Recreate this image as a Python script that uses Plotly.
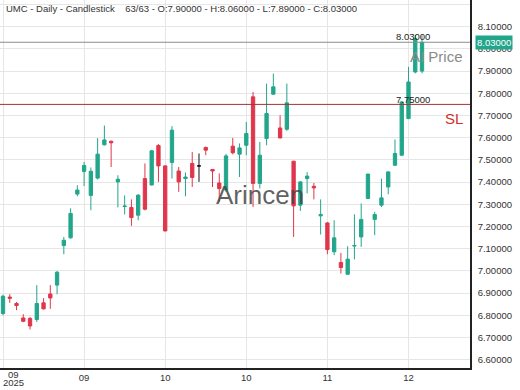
import plotly.graph_objects as go

# ---- data ----
opens = [6.808, 6.882, 6.853, 6.788, 6.786, 6.781, 6.856, 6.896, 6.936, 7.114,
         7.149, 7.346, 7.448, 7.340, 7.418, 7.568, 7.584, 7.401, 7.290, 7.286,
         7.251, 7.416, 7.387, 7.565, 7.473, 7.488, 7.450, 7.416, 7.484, 7.473,
         7.556, 7.457, 7.396, 7.364, 7.562, 7.526, 7.566, 7.784, 7.394, 7.596,
         7.796, 7.644, 7.638, 7.494, 7.296, 7.416, 7.381, 7.248, 7.216, 7.086,
         7.038, 6.985, 7.112, 7.153, 7.326, 7.232, 7.296, 7.378, 7.476, 7.521,
         7.686, 7.896, 7.900]
highs = [6.893, 6.895, 6.860, 6.805, 6.793, 6.936, 6.877, 6.936, 7.000, 7.153,
         7.282, 7.386, 7.491, 7.466, 7.598, 7.655, 7.587, 7.431, 7.340, 7.322,
         7.346, 7.484, 7.545, 7.571, 7.476, 7.652, 7.468, 7.443, 7.536, 7.529,
         7.560, 7.459, 7.439, 7.527, 7.599, 7.574, 7.671, 7.806, 7.581, 7.844,
         7.889, 7.701, 7.844, 7.496, 7.404, 7.445, 7.396, 7.322, 7.220, 7.228,
         7.081, 7.111, 7.255, 7.304, 7.438, 7.266, 7.416, 7.448, 7.592, 7.765,
         7.919, 8.062, 8.060]
lows = [6.800, 6.856, 6.823, 6.769, 6.736, 6.770, 6.826, 6.829, 6.895, 7.075,
        7.145, 7.336, 7.382, 7.273, 7.412, 7.565, 7.468, 7.286, 7.254, 7.203,
        7.228, 7.273, 7.385, 7.401, 7.178, 7.416, 7.356, 7.336, 7.378, 7.401,
        7.521, 7.378, 7.311, 7.356, 7.525, 7.423, 7.521, 7.288, 7.371, 7.566,
        7.794, 7.597, 7.631, 7.153, 7.270, 7.349, 7.322, 7.164, 7.075, 7.071,
        6.988, 6.983, 7.052, 7.108, 7.324, 7.161, 7.288, 7.345, 7.474, 7.519,
        7.684, 7.890, 7.890]
closes = [6.886, 6.877, 6.844, 6.773, 6.752, 6.853, 6.829, 6.878, 6.994, 7.138,
          7.259, 7.364, 7.475, 7.449, 7.526, 7.590, 7.577, 7.413, 7.292, 7.240,
          7.341, 7.278, 7.541, 7.473, 7.180, 7.634, 7.401, 7.423, 7.421, 7.473,
          7.544, 7.450, 7.371, 7.518, 7.532, 7.554, 7.619, 7.394, 7.521, 7.709,
          7.829, 7.599, 7.757, 7.293, 7.401, 7.427, 7.374, 7.254, 7.096, 7.149,
          7.015, 7.053, 7.114, 7.232, 7.436, 7.254, 7.329, 7.446, 7.529, 7.761,
          7.851, 8.047, 8.030]

tick_positions = [12, 24, 36, 48, 60]
tick_labels = ["09", "10", "10", "11", "12"]
first_tick_label = ["09", "2025"]
y_ticks = [6.6, 6.7, 6.8, 6.9, 7.0, 7.1, 7.2, 7.3, 7.4, 7.5, 7.6, 7.7, 7.8, 7.9, 8.0, 8.1, 8.2]

last_price = 8.03
stop_loss = 7.75
title_text = "UMC - Daily - Candlestick\u00a0\u00a0\u00a0 63/63 - O:7.90000 - H:8.06000 - L:7.89000 - C:8.03000"

GREEN = "#22a68b"
RED = "#e0364b"
FONT = "Liberation Sans, Arial, sans-serif"

idx = list(range(len(opens)))
norm = [i for i in idx if opens[i] != closes[i]]
doji = [i for i in idx if opens[i] == closes[i]]

fig = go.Figure()
fig.add_trace(go.Candlestick(
    x=norm, open=[opens[i] for i in norm], high=[highs[i] for i in norm],
    low=[lows[i] for i in norm], close=[closes[i] for i in norm],
    increasing=dict(line=dict(color=GREEN, width=1), fillcolor=GREEN),
    decreasing=dict(line=dict(color=RED, width=1), fillcolor=RED),
    whiskerwidth=0, hoverinfo="skip", showlegend=False))
fig.add_trace(go.Candlestick(
    x=doji, open=[opens[i] for i in doji], high=[highs[i] for i in doji],
    low=[lows[i] for i in doji], close=[closes[i] for i in doji],
    increasing=dict(line=dict(color="#111111", width=1), fillcolor="#111111"),
    decreasing=dict(line=dict(color="#111111", width=1), fillcolor="#111111"),
    whiskerwidth=0, hoverinfo="skip", showlegend=False))

x_min = -0.444
x_max = 69.1

# price & stop-loss lines
fig.add_shape(type="line", xref="paper", x0=0, x1=1, yref="y", y0=last_price, y1=last_price,
              line=dict(color="#8c8c8c", width=1))
fig.add_shape(type="line", xref="paper", x0=0, x1=1, yref="y", y0=stop_loss, y1=stop_loss,
              line=dict(color="#a83232", width=1))

ann = []
ann.append(dict(text=title_text, xref="paper", yref="paper", x=4/470, y=1-8.5/368,
                xanchor="left", yanchor="middle", showarrow=False,
                font=dict(size=9.5, color="#333333", family=FONT)))
ann.append(dict(text="Arincen", xref="paper", yref="y", x=259.5/470, y=7.34,
                xanchor="center", yanchor="middle", showarrow=False,
                font=dict(size=26, color="rgba(70,70,70,0.85)", family=FONT)))
ann.append(dict(text=f"{last_price:.5f}", xref="paper", yref="y", x=412.5/470, y=last_price,
                xanchor="center", yanchor="middle", yshift=5.5, showarrow=False,
                font=dict(size=9.5, color="#222222", family=FONT)))
ann.append(dict(text=f"{stop_loss:.5f}", xref="paper", yref="y", x=412.5/470, y=stop_loss,
                xanchor="center", yanchor="middle", yshift=4.5, showarrow=False,
                font=dict(size=9.5, color="#222222", family=FONT)))
ann.append(dict(text="AI Price", xref="paper", yref="y", x=436.5/470, y=7.967,
                xanchor="center", yanchor="middle", showarrow=False,
                font=dict(size=15, color="#8a8a8a", family=FONT)))
ann.append(dict(text="SL", xref="paper", yref="y", x=453.5/470, y=7.686,
                xanchor="center", yanchor="middle", showarrow=False,
                font=dict(size=15, color="#d32f2f", family=FONT)))
ann.append(dict(text=f"{last_price:.5f}", xref="paper", yref="y", x=475/470, y=last_price,
                xanchor="left", yanchor="middle", showarrow=False, bgcolor=GREEN,
                borderpad=1, font=dict(size=9.5, color="#ffffff", family=FONT)))
ann.append(dict(text=first_tick_label[0], xref="paper", yref="paper", x=13/470, y=-6.3/368,
                xanchor="center", yanchor="middle", showarrow=False,
                font=dict(size=9.5, color="#333333", family=FONT)))
ann.append(dict(text=first_tick_label[1], xref="paper", yref="paper", x=13/470, y=-14.7/368,
                xanchor="center", yanchor="middle", showarrow=False,
                font=dict(size=9.5, color="#333333", family=FONT)))

fig.update_layout(
    width=520, height=390,
    margin=dict(l=0, r=50, t=0, b=22),
    paper_bgcolor="white", plot_bgcolor="white",
    font=dict(family=FONT, size=9.5, color="#333333"),
    annotations=ann,
    showlegend=False,
    xaxis=dict(range=[x_min, x_max], rangeslider=dict(visible=False),
               tickmode="array", tickvals=[0] + tick_positions, ticktext=[""] + tick_labels,
               showgrid=True, gridcolor="#e6e6e6", gridwidth=1,
               showline=True, linecolor="#222222", linewidth=1.5,
               ticks="", zeroline=False, fixedrange=True),
    yaxis=dict(side="right", range=[6.5626, 8.2203],
               tickmode="array", tickvals=y_ticks, ticktext=[f"{v:.5f}" for v in y_ticks],
               showgrid=True, gridcolor="#e6e6e6", gridwidth=1,
               showline=True, linecolor="#222222", linewidth=1.5,
               ticks="outside", ticklen=4, tickcolor="rgba(0,0,0,0)",
               zeroline=False, fixedrange=True),
)

fig.write_html("out.html", config={"displayModeBar": False},
               post_script="document.body.style.margin='0';document.body.style.overflow='hidden';")
